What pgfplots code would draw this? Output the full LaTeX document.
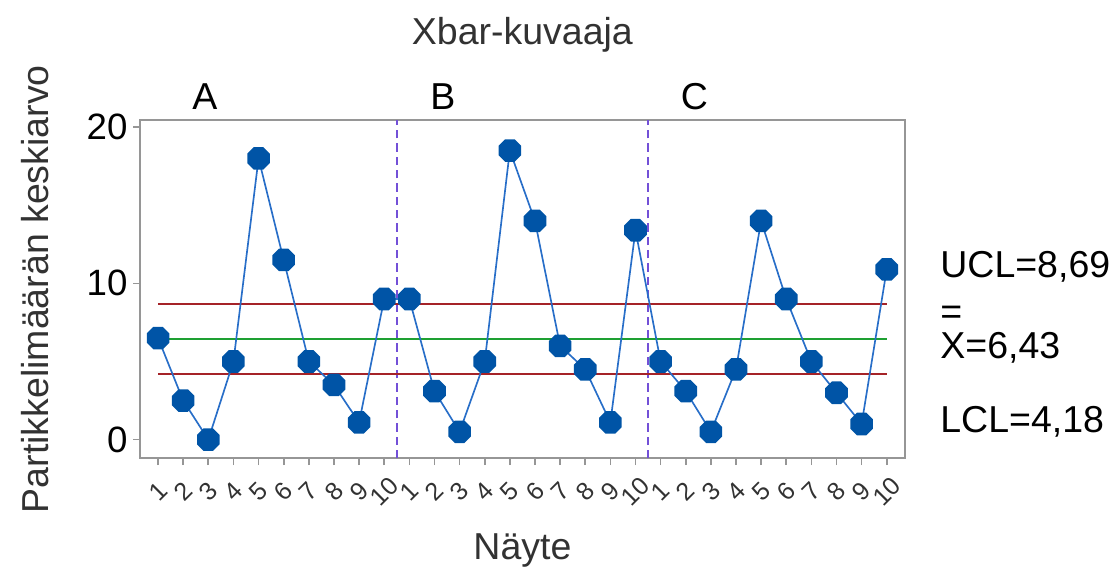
\documentclass[border=0pt]{standalone}
\usepackage{fontspec}
\setmainfont{Liberation Sans}
\usepackage{pgfplots}
\pgfplotsset{compat=1.18}

\definecolor{markblue}{RGB}{0,84,166}
\definecolor{lineblue}{RGB}{40,110,200}
\definecolor{limred}{RGB}{165,35,40}
\definecolor{cgreen}{RGB}{30,160,50}
\definecolor{divpurple}{RGB}{115,80,215}
\definecolor{framegray}{RGB}{150,150,150}
\definecolor{txtgray}{RGB}{50,50,50}

% octagon marker like the Minitab symbols
\pgfdeclareplotmark{octagon*}{%
  \pgfpathmoveto{\pgfpointpolar{22.5}{\pgfplotmarksize}}%
  \pgfpathlineto{\pgfpointpolar{67.5}{\pgfplotmarksize}}%
  \pgfpathlineto{\pgfpointpolar{112.5}{\pgfplotmarksize}}%
  \pgfpathlineto{\pgfpointpolar{157.5}{\pgfplotmarksize}}%
  \pgfpathlineto{\pgfpointpolar{202.5}{\pgfplotmarksize}}%
  \pgfpathlineto{\pgfpointpolar{247.5}{\pgfplotmarksize}}%
  \pgfpathlineto{\pgfpointpolar{292.5}{\pgfplotmarksize}}%
  \pgfpathlineto{\pgfpointpolar{337.5}{\pgfplotmarksize}}%
  \pgfpathclose
  \pgfusepathqfillstroke
}

\newcommand\bigfont{\fontsize{22.5}{26}\selectfont}

\begin{document}
\begin{tikzpicture}
\begin{axis}[
  scale only axis,
  width=459pt, height=203pt,
  xmin=0.28, xmax=30.72,
  ymin=-1.2, ymax=20.45,
  clip=false,
  axis line style={framegray, line width=1.2pt},
  tick style={framegray, line width=1pt},
  tick align=outside, tick pos=left,
  major tick length=4pt,
  xtick={1,...,30},
  xticklabels={1,2,3,4,5,6,7,8,9,10,1,2,3,4,5,6,7,8,9,10,1,2,3,4,5,6,7,8,9,10},
  x tick label style={yshift=-16pt, rotate=45, anchor=center, font=\fontsize{15}{17}\selectfont, text=txtgray},
  ytick={0,10,20},
  y tick label style={font=\fontsize{22}{26}\selectfont, text=black},
  /pgf/number format/assume math mode=true,
  xlabel={Näyte},
  xlabel style={at={(axis description cs:0.5,-0.272)}, anchor=center, font=\bigfont, text=txtgray},
  ylabel={Partikkelimäärän keskiarvo},
  ylabel style={at={(axis description cs:-0.137,0.5)}, anchor=center, font=\bigfont, text=txtgray},
]
% group separators
\addplot[divpurple, dash pattern=on 5pt off 3pt, line width=1.1pt] coordinates {(10.5,-1.2) (10.5,20.45)};
\addplot[divpurple, dash pattern=on 5pt off 3pt, line width=1.1pt] coordinates {(20.5,-1.2) (20.5,20.45)};
% control limits and centre line
\addplot[limred, line width=1.2pt] coordinates {(1,8.69) (30,8.69)};
\addplot[cgreen, line width=1.2pt] coordinates {(1,6.43) (30,6.43)};
\addplot[limred, line width=1.2pt] coordinates {(1,4.18) (30,4.18)};
% sample means
\addplot[lineblue, line width=1pt, mark=octagon*, mark size=6.8pt,
  mark options={fill=markblue, draw=markblue, solid}] coordinates {
  (1,6.5) (2,2.5) (3,0.0) (4,5.0) (5,18.0) (6,11.5) (7,5.0) (8,3.5) (9,1.1) (10,9.0)
  (11,9.0) (12,3.1) (13,0.5) (14,5.0) (15,18.5) (16,14.0) (17,6.0) (18,4.5) (19,1.1) (20,13.4)
  (21,5.0) (22,3.1) (23,0.5) (24,4.5) (25,14.0) (26,9.0) (27,5.0) (28,3.0) (29,1.0) (30,10.9)
};
% titles and labels
\node[font=\bigfont, text=txtgray] at (axis description cs:0.5,1.251) {Xbar-kuvaaja};
\node[font=\bigfont] at (axis description cs:0.085,1.068) {A};
\node[font=\bigfont] at (axis description cs:0.396,1.068) {B};
\node[font=\bigfont] at (axis description cs:0.725,1.068) {C};
\node[font=\bigfont, anchor=west, inner sep=0pt] at (axis description cs:1.046,0.565) {UCL=8,69};
\node[font=\bigfont, anchor=west, inner sep=0pt] at (axis description cs:1.046,0.423) {=};
\node[font=\bigfont, anchor=west, inner sep=0pt] at (axis description cs:1.046,0.328) {X=6,43};
\node[font=\bigfont, anchor=west, inner sep=0pt] at (axis description cs:1.046,0.107) {LCL=4,18};
% page frame with the reference's margins
\path (axis description cs:-0.183,-0.34) rectangle (axis description cs:1.28,1.355);
\end{axis}
\end{tikzpicture}
\end{document}
